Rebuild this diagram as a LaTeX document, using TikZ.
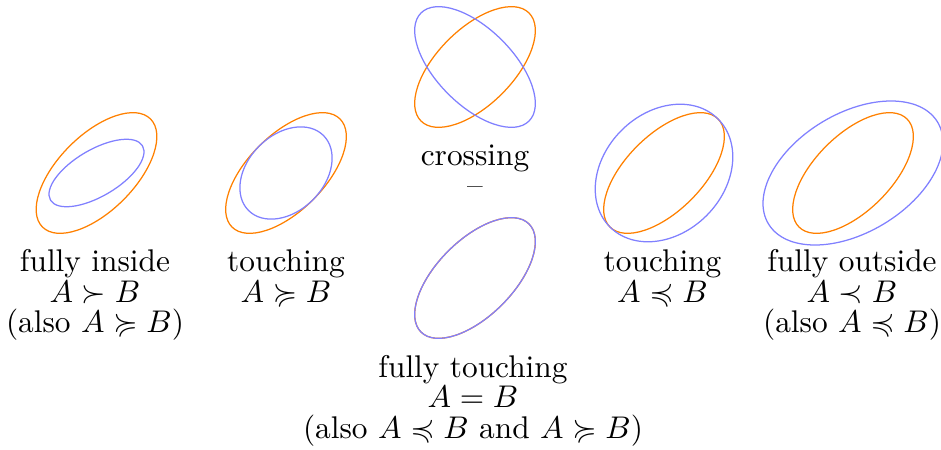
\documentclass[tikz,border=0pt]{standalone}
\usepackage{amssymb}
\begin{document}
\begin{tikzpicture}[x=0.31898pt,y=0.31898pt,
  setA/.style={draw=orange, line width=0.4pt},
  setB/.style={draw=blue!50, line width=0.4pt},
  lbl/.style={anchor=base, inner sep=0pt, outer sep=0pt}]
\useasboundingbox (0,0) rectangle (941,449);
\clip (0,0) rectangle (941,449);
% 1: fully inside
\coordinate (c1) at (96.5,276);
\draw[setA, rotate around={45:(c1)}] (c1) ellipse [x radius=76.4, y radius=38];
\draw[setB, rotate around={30.5:(c1)}] (c1) ellipse [x radius=53.4, y radius=23.3];
\node[lbl] (l1a) at (95,177.3) {fully inside};
\node[lbl] (l1b) at (95,146.3) {$A \succ B$};
\node[lbl] (l1c) at (95,116.3) {(also $A \succcurlyeq B$)};
% 2: touching
\coordinate (c2) at (286,276);
\draw[setA, rotate around={45:(c2)}] (c2) ellipse [x radius=76.4, y radius=38];
\draw[setB, rotate around={45:(c2)}] (c2) ellipse [x radius=53, y radius=38];
\node[lbl] (l2a) at (286,177.3) {touching};
\node[lbl] (l2b) at (286,146.3) {$A \succcurlyeq B$};
% 3: crossing
\coordinate (c3) at (475,382);
\draw[setA, rotate around={45:(c3)}] (c3) ellipse [x radius=76.4, y radius=38];
\draw[setB, rotate around={-45:(c3)}] (c3) ellipse [x radius=76.4, y radius=38];
\node[lbl] (l3a) at (475,284) {crossing};
\node[lbl] (l3b) at (475,254) {--};
% 4: fully touching
\coordinate (c4) at (475,171);
\draw[setA, rotate around={45:(c4)}] (c4) ellipse [x radius=76.4, y radius=38];
\draw[setB, rotate around={45:(c4)}] (c4) ellipse [x radius=76.4, y radius=38];
\node[lbl] (l4a) at (473,72) {fully touching};
\node[lbl] (l4b) at (473,41.5) {$A = B$};
\node[lbl] (l4c) at (473,11) {(also $A \preccurlyeq B$ and $A \succcurlyeq B$)};
% 5: touching
\coordinate (c5) at (664,276);
\draw[setA, rotate around={45:(c5)}] (c5) ellipse [x radius=76.4, y radius=38];
\draw[setB, rotate around={45:(c5)}] (c5) ellipse [x radius=76.4, y radius=60.2];
\node[lbl] (l5a) at (662.5,177.3) {touching};
\node[lbl] (l5b) at (662.5,146.3) {$A \preccurlyeq B$};
% 6: fully outside
\coordinate (c6) at (853,276);
\draw[setA, rotate around={45:(c6)}] (c6) ellipse [x radius=76.4, y radius=38];
\draw[setB, rotate around={31:(c6)}] (c6) ellipse [x radius=98.7, y radius=59.5];
\node[lbl] (l6a) at (852,177.3) {fully outside};
\node[lbl] (l6b) at (852,146.3) {$A \prec B$};
\node[lbl] (l6c) at (852,116.3) {(also $A \preccurlyeq B$)};
\end{tikzpicture}
\end{document}
